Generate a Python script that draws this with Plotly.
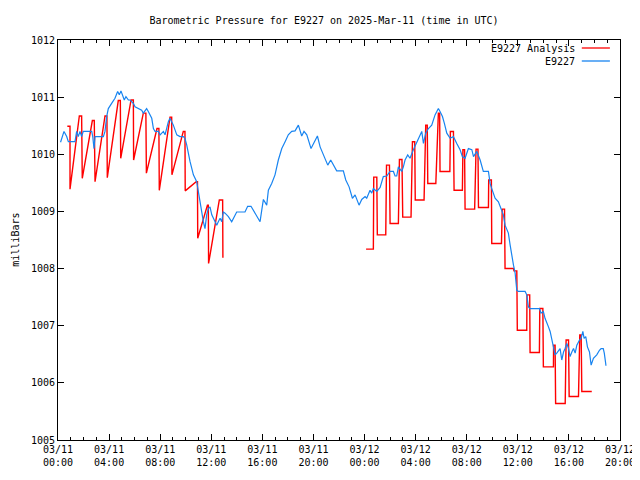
import pandas as pd
import plotly.graph_objects as go

BASE = pd.Timestamp("2025-03-11 00:00")

# Observed station pressure (hours since 2025-03-11 00:00 UTC, mbar)
obs_hours = [0.2,0.47,0.68,0.81,1.33,1.46,1.59,1.72,1.85,1.98,2.64,2.72,2.82,2.90,3.55,3.68,3.81,3.94,4.20,4.46,4.67,4.80,4.93,5.06,5.19,5.32,5.51,5.64,5.90,6.03,6.29,6.55,6.68,6.94,7.07,7.34,7.47,7.60,7.86,7.99,8.25,8.38,8.64,8.77,9.03,9.30,9.55,9.81,9.94,10.08,10.34,10.60,10.86,10.99,11.12,11.25,11.38,11.51,11.64,11.77,11.90,12.04,12.16,12.29,12.43,12.55,12.69,12.82,12.94,13.08,13.34,13.60,13.99,14.64,14.85,15.11,15.29,15.56,15.82,15.95,16.08,16.34,16.47,16.73,16.99,17.25,17.52,17.78,18.03,18.30,18.56,18.82,18.95,19.08,19.26,19.48,19.81,20.07,20.31,20.52,20.78,21.12,21.35,21.56,21.82,22.34,22.53,22.79,23.05,23.26,23.57,23.78,24.04,24.17,24.43,24.56,24.69,24.96,25.22,25.47,25.74,26.00,26.26,26.39,26.52,26.65,26.91,27.04,27.17,27.38,27.56,27.82,28.09,28.27,28.48,28.61,28.79,29.0,29.26,29.52,29.78,29.91,30.10,30.25,30.44,30.70,30.96,31.22,31.48,31.66,31.87,32.13,32.40,32.53,32.79,33.05,33.30,33.70,33.83,33.96,34.22,34.48,34.61,34.87,35.0,35.14,35.26,35.40,35.53,35.66,35.79,35.92,36.05,36.57,36.70,36.83,36.96,37.69,37.82,38.0,38.13,38.26,38.40,38.53,38.66,38.79,38.92,39.05,39.18,39.31,39.44,39.58,39.70,39.84,39.97,40.09,40.23,40.36,40.49,40.62,40.83,40.96,41.09,41.19,41.32,41.45,41.61,41.74,41.92,42.18,42.39,42.52,42.69,42.77,42.88,42.90]
obs_mbar = [1010.21,1010.40,1010.31,1010.22,1010.22,1010.40,1010.31,1010.40,1010.31,1010.40,1010.40,1010.31,1010.10,1010.31,1010.31,1010.40,1010.66,1010.80,1010.89,1010.98,1011.10,1011.04,1011.11,1011.04,1010.95,1011.01,1010.95,1010.95,1010.89,1010.83,1010.80,1010.77,1010.72,1010.80,1010.75,1010.63,1010.45,1010.40,1010.40,1010.34,1010.40,1010.34,1010.57,1010.63,1010.51,1010.34,1010.31,1010.31,1010.28,1010.16,1009.87,1009.64,1009.52,1009.35,1009.11,1008.94,1008.82,1008.70,1008.94,1009.05,1009.08,1008.94,1008.88,1008.82,1008.76,1008.82,1008.88,1008.82,1008.99,1008.97,1008.91,1008.82,1008.99,1008.99,1009.09,1009.09,1009.02,1008.91,1008.82,1009.02,1009.21,1009.11,1009.37,1009.49,1009.64,1009.90,1010.10,1010.22,1010.34,1010.40,1010.41,1010.51,1010.42,1010.32,1010.40,1010.34,1010.10,1010.22,1010.32,1010.13,1009.99,1009.81,1009.90,1009.81,1009.71,1009.71,1009.55,1009.43,1009.23,1009.29,1009.11,1009.21,1009.26,1009.23,1009.37,1009.32,1009.40,1009.35,1009.42,1009.61,1009.62,1009.70,1009.70,1009.62,1009.62,1009.78,1009.70,1009.78,1009.90,1009.99,1009.93,1010.08,1010.22,1010.31,1010.40,1010.19,1010.37,1010.45,1010.51,1010.69,1010.80,1010.75,1010.66,1010.54,1010.37,1010.28,1010.31,1010.19,1010.08,1009.96,1009.93,1010.10,1010.08,1009.96,1010.05,1009.90,1009.70,1009.70,1009.49,1009.40,1009.23,1009.17,1009.08,1008.94,1008.76,1008.67,1008.62,1008.41,1008.21,1008.06,1007.92,1007.62,1007.60,1007.60,1007.54,1007.33,1007.30,1007.30,1007.22,1007.25,1007.13,1007.04,1006.98,1006.90,1006.75,1006.60,1006.49,1006.52,1006.57,1006.60,1006.40,1006.54,1006.60,1006.69,1006.60,1006.46,1006.54,1006.60,1006.52,1006.66,1006.75,1006.78,1006.90,1006.78,1006.81,1006.63,1006.54,1006.31,1006.43,1006.49,1006.57,1006.60,1006.60,1006.52,1006.34,1006.30]

# Analysis pressure (None = gap)
ana_hours = [0.73,0.94,0.94,1.67,1.85,1.90,2.69,2.84,2.90,3.68,3.83,3.86,4.72,4.88,4.91,5.72,5.90,5.92,6.68,6.88,6.92,7.75,7.90,7.93,8.77,8.90,8.92,9.81,9.94,9.96,10.82,10.92,10.94,11.70,11.77,11.79,12.63,12.89,12.91,
             18.0,
             24.12,24.69,24.72,24.96,25.0,25.66,25.72,25.95,26.0,26.65,26.73,26.93,26.99,27.64,27.75,27.93,27.97,28.66,28.79,28.91,28.95,29.58,29.78,29.88,29.91,30.68,30.72,30.96,31.01,31.66,31.70,31.83,31.87,32.62,32.73,32.88,32.92,33.70,33.72,33.93,33.96,34.72,34.78,34.96,35.0,35.66,35.70,35.92,35.96,36.70,36.72,36.93,36.96,37.69,37.72,37.96,38.0,38.79,38.80,38.92,38.96,39.71,39.78,39.97,40.02,40.75,40.85,40.96,41.01,41.79]
ana_mbar = [1010.49,1010.49,1009.39,1010.67,1010.67,1009.58,1010.59,1010.59,1009.52,1010.67,1010.67,1009.59,1010.94,1010.94,1009.93,1010.95,1010.95,1009.90,1010.72,1010.72,1009.67,1010.45,1010.45,1009.37,1010.65,1010.65,1009.64,1010.40,1010.40,1009.36,1009.52,1009.52,1008.53,1009.11,1009.11,1008.09,1009.20,1009.20,1008.19,
            None,
            1008.34,1008.34,1009.60,1009.60,1008.59,1008.59,1009.81,1009.81,1008.79,1008.79,1009.91,1009.91,1008.90,1008.90,1010.22,1010.22,1009.20,1009.20,1010.51,1010.51,1009.49,1009.49,1010.72,1010.72,1009.70,1009.70,1010.40,1010.40,1009.37,1009.37,1010.08,1010.08,1009.04,1009.04,1010.09,1010.09,1009.07,1009.07,1009.55,1009.55,1008.44,1008.44,1009.04,1009.04,1008.00,1008.00,1007.96,1007.96,1006.92,1006.92,1007.54,1007.54,1006.53,1006.53,1007.30,1007.30,1006.28,1006.28,1006.66,1006.66,1005.64,1005.64,1006.75,1006.75,1005.76,1005.76,1006.84,1006.84,1005.85,1005.85]

y_ticks = [1005, 1006, 1007, 1008, 1009, 1010, 1011, 1012]
RED = "#ff0000"
BLUE = "#1884f0"
FONT = "DejaVu Sans Mono"

def to_time(hours):
    return [BASE + pd.Timedelta(hours=h) for h in hours]

fig = go.Figure()
fig.add_trace(go.Scatter(x=to_time(ana_hours), y=ana_mbar, mode="lines",
                         line=dict(color=RED, width=1.4), connectgaps=False,
                         name="E9227 Analysis", showlegend=False))
fig.add_trace(go.Scatter(x=to_time(obs_hours), y=obs_mbar, mode="lines",
                         line=dict(color=BLUE, width=1.2),
                         name="E9227", showlegend=False))

# legend drawn gnuplot-style (text right, sample on the right)
for i, (label, col) in enumerate([("E9227 Analysis", RED), ("E9227", BLUE)]):
    yp = 0.98 - i * 0.0325
    fig.add_annotation(xref="paper", yref="paper", x=0.924, y=yp, text=label,
                       showarrow=False, xanchor="right", yanchor="middle",
                       font=dict(family=FONT, size=10, color="black"))
    fig.add_shape(type="line", xref="paper", yref="paper", x0=0.932, x1=0.982,
                  y0=yp, y1=yp, line=dict(color=col, width=1.3))

# y-axis label
fig.add_annotation(xref="paper", yref="paper", x=-0.077, y=0.5, text="milliBars",
                   textangle=-90, showarrow=False, xanchor="center", yanchor="middle",
                   borderpad=0,
                   font=dict(family=FONT, size=10, color="black"))

axis_common = dict(showline=True, linecolor="black", linewidth=1, mirror="ticks",
                   ticks="inside", tickcolor="black", showgrid=False, zeroline=False,
                   automargin=False,
                   tickfont=dict(family=FONT, size=10, color="black"))

fig.update_xaxes(type="date",
                 range=[BASE, BASE + pd.Timedelta(hours=44)],
                 tick0=BASE, dtick=4 * 3600 * 1000, tickformat="%m/%d<br>%H:%M",
                 ticklen=6,
                 minor=dict(ticks="inside", dtick=3600 * 1000, ticklen=3, tickcolor="black", showgrid=False),
                 **axis_common)
fig.update_yaxes(range=[1005, 1012], tickvals=y_ticks, ticktext=[str(v) for v in y_ticks],
                 ticklen=6, **axis_common)

# page body adds an ~8px offset, so the figure is slightly smaller than the window
fig.update_layout(
    width=632, height=472,
    margin=dict(l=50, r=20, t=32, b=40, autoexpand=False),
    paper_bgcolor="white", plot_bgcolor="white",
    title=dict(text="Barometric Pressure for E9227 on 2025-Mar-11 (time in UTC)",
               x=0.5, xanchor="center", y=0.974, yanchor="middle", automargin=False,
               font=dict(family=FONT, size=10, color="black")),
    showlegend=False,
)

fig.write_html("out.html")
